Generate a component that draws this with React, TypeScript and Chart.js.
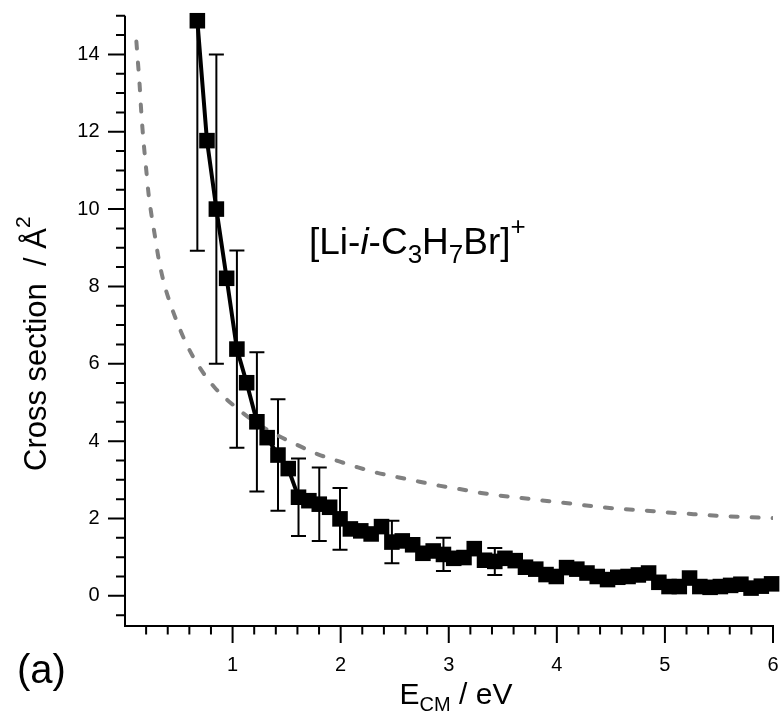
import React, { useEffect, useRef } from "react";
import { Chart, registerables } from "chart.js";

Chart.register(...registerables);

// ---------- data ----------
const energies = [
  0.674, 0.763, 0.85, 0.945, 1.04, 1.13, 1.225, 1.32, 1.42, 1.515,
  1.61, 1.706, 1.802, 1.898, 1.994, 2.09, 2.186, 2.282, 2.378, 2.474,
  2.57, 2.666, 2.761, 2.856, 2.951, 3.046, 3.141, 3.236, 3.331, 3.426,
  3.52, 3.615, 3.71, 3.805, 3.9, 3.995, 4.09, 4.185, 4.279, 4.374,
  4.469, 4.564, 4.659, 4.754, 4.849, 4.944, 5.038, 5.133, 5.228, 5.323,
  5.418, 5.513, 5.608, 5.703, 5.797, 5.892, 5.987,
];
const crossSection = [
  14.87, 11.77, 10.0, 8.21, 6.38, 5.51, 4.5, 4.09, 3.64, 3.29,
  2.55, 2.46, 2.37, 2.29, 1.99, 1.73, 1.68, 1.6, 1.79, 1.39,
  1.42, 1.32, 1.1, 1.16, 1.07, 0.97, 0.99, 1.22, 0.92, 0.89,
  0.97, 0.91, 0.74, 0.69, 0.55, 0.5, 0.73, 0.69, 0.59, 0.5,
  0.42, 0.48, 0.5, 0.54, 0.59, 0.35, 0.24, 0.24, 0.46, 0.24,
  0.22, 0.24, 0.27, 0.3, 0.2, 0.25, 0.31,
];
const crossSectionError: (number | null)[] = [
  5.95, null, 4.0, null, 2.55, null, 1.8, null, 1.44, null,
  1.0, null, 0.95, null, 0.8, null, null, null, null, 0.55,
  null, null, null, null, 0.43, null, null, null, null, 0.35,
  null, null, null, null, null, null, null, null, null, null,
  null, null, null, null, null, null, null, null, null, null,
  null, null, null, null, null, null, null,
];
const modelEnergies = [
  0.11, 0.125, 0.14, 0.152, 0.166, 0.185, 0.203, 0.222, 0.25, 0.28,
  0.315, 0.362, 0.418, 0.485, 0.57, 0.68, 0.83, 1.02, 1.22, 1.41,
  1.6, 1.79, 1.97, 2.16, 2.34, 2.54, 2.73, 2.91, 3.1, 3.3,
  3.48, 3.67, 3.85, 4.05, 4.23, 4.42, 4.62, 4.8, 4.99, 5.17,
  5.37, 5.55, 5.72, 6.0,
];
const modelCrossSection = [
  14.33, 13.77, 13.21, 12.65, 12.09, 11.48, 10.96, 10.41, 9.84, 9.33,
  8.73, 8.12, 7.6, 7.09, 6.53, 5.97, 5.4, 4.9, 4.47, 4.16,
  3.9, 3.66, 3.49, 3.32, 3.18, 3.06, 2.95, 2.85, 2.76, 2.66,
  2.59, 2.53, 2.47, 2.41, 2.35, 2.29, 2.24, 2.21, 2.16, 2.13,
  2.09, 2.06, 2.04, 2.01,
];
const xMajorTicks = [1, 2, 3, 4, 5, 6];
const yMajorTicks = [0, 2, 4, 6, 8, 10, 12, 14];
const xMinorStep = 0.2;
const yMinorStep = 0.5;
const X_MIN = 0;
const X_MAX = 6;
const Y_MIN = -0.78;
const Y_MAX = 15;

// ---------- layout ----------
const W = 784;
const H = 713;
const AREA = { left: 124.5, top: 15.7, right: 775, bottom: 626 };
const FONT = '"Liberation Sans", Arial, Helvetica, sans-serif';

type Run = { t: string; size: number; dy?: number; italic?: boolean };

function drawRuns(ctx: CanvasRenderingContext2D, runs: Run[], x: number, y: number) {
  let cx = x;
  for (const r of runs) {
    ctx.font = `${r.italic ? "italic " : ""}${r.size}px ${FONT}`;
    ctx.fillText(r.t, cx, y + (r.dy || 0));
    cx += ctx.measureText(r.t).width;
  }
  return cx - x;
}
function runsWidth(ctx: CanvasRenderingContext2D, runs: Run[]) {
  let w = 0;
  for (const r of runs) {
    ctx.font = `${r.italic ? "italic " : ""}${r.size}px ${FONT}`;
    w += ctx.measureText(r.t).width;
  }
  return w;
}

const errorBarPlugin = {
  id: "errorBars",
  beforeDatasetsDraw(chart: any) {
    const { ctx, chartArea } = chart;
    const xs = chart.scales.x;
    const ys = chart.scales.y;
    ctx.save();
    ctx.beginPath();
    ctx.rect(chartArea.left, chartArea.top, chartArea.right - chartArea.left, chartArea.bottom - chartArea.top);
    ctx.clip();
    ctx.strokeStyle = "#000";
    ctx.lineWidth = 2;
    const cap = 7.5;
    crossSectionError.forEach((e, i) => {
      if (e == null) return;
      const px = xs.getPixelForValue(energies[i]);
      const pt = ys.getPixelForValue(crossSection[i] + e);
      const pb = ys.getPixelForValue(crossSection[i] - e);
      ctx.beginPath();
      ctx.moveTo(px, pt);
      ctx.lineTo(px, pb);
      ctx.moveTo(px - cap, pt);
      ctx.lineTo(px + cap, pt);
      ctx.moveTo(px - cap, pb);
      ctx.lineTo(px + cap, pb);
      ctx.stroke();
    });
    ctx.restore();
  },
};

const axesPlugin = {
  id: "axesAndText",
  afterDraw(chart: any) {
    const { ctx, chartArea } = chart;
    const xs = chart.scales.x;
    const ys = chart.scales.y;
    ctx.save();
    ctx.strokeStyle = "#000";
    ctx.lineWidth = 2;
    ctx.lineCap = "butt";
    const ax = chartArea.left + 0.5;
    const ay = chartArea.bottom;
    // axis lines
    ctx.beginPath();
    ctx.moveTo(ax, chartArea.top);
    ctx.lineTo(ax, ay + 1);
    ctx.moveTo(ax - 1, ay);
    ctx.lineTo(chartArea.right + 1, ay);
    ctx.stroke();
    // y ticks
    ctx.beginPath();
    for (let v = Math.ceil(Y_MIN / yMinorStep) * yMinorStep; v <= Y_MAX + 1e-6; v += yMinorStep) {
      const p = ys.getPixelForValue(v);
      const major = yMajorTicks.some((t) => Math.abs(t - v) < 1e-6);
      ctx.moveTo(ax - (major ? 17 : 9), p);
      ctx.lineTo(ax, p);
    }
    // x ticks
    for (let v = X_MIN + xMinorStep; v <= X_MAX + 1e-6; v += xMinorStep) {
      const p = xs.getPixelForValue(v);
      const major = xMajorTicks.some((t) => Math.abs(t - v) < 1e-6);
      ctx.moveTo(p, ay);
      ctx.lineTo(p, ay + (major ? 17 : 8.5));
    }
    ctx.stroke();

    ctx.fillStyle = "#000";
    ctx.textBaseline = "alphabetic";
    ctx.textAlign = "left";

    // x title
    const xRuns: Run[] = [
      { t: "E", size: 30 },
      { t: "CM", size: 20, dy: 7 },
      { t: " / eV", size: 30 },
    ];
    const xw = runsWidth(ctx, xRuns);
    drawRuns(ctx, xRuns, 456 - xw / 2, 704);

    // y title
    ctx.save();
    ctx.translate(46, 471);
    ctx.rotate(-Math.PI / 2);
    drawRuns(ctx, [
      { t: "Cross section  / \u00C5", size: 31 },
      { t: "2", size: 21, dy: -16 },
    ], 0, 0);
    ctx.restore();

    // panel label
    drawRuns(ctx, [{ t: "(a)", size: 40 }], 17, 683);

    // annotation
    drawRuns(ctx, [
      { t: "[Li-", size: 37 },
      { t: "i", size: 37, italic: true },
      { t: "-C", size: 37 },
      { t: "3", size: 26, dy: 9 },
      { t: "H", size: 37 },
      { t: "7", size: 26, dy: 9 },
      { t: "Br]", size: 37 },
      { t: "+", size: 26, dy: -19 },
    ], 309, 254);
    ctx.restore();
  },
};

export default function App() {
  const ref = useRef<HTMLCanvasElement>(null);
  useEffect(() => {
    document.body.style.margin = "0";
    const canvas = ref.current!;
    const chart = new Chart(canvas, {
      type: "line",
      data: {
        datasets: [
          {
            label: "data",
            data: energies.map((x, i) => ({ x, y: crossSection[i] })),
            borderColor: "#000",
            backgroundColor: "#000",
            borderWidth: 4,
            pointStyle: "rect",
            pointRadius: 11,
            pointBorderWidth: 0,
            pointBackgroundColor: "#000",
            tension: 0,
            clip: false,
            order: 0,
          },
          {
            label: "model",
            data: modelEnergies.map((x, i) => ({ x, y: modelCrossSection[i] })),
            borderColor: "#808080",
            borderWidth: 4,
            borderDash: [7, 14],
            borderCapStyle: "round",
            pointRadius: 0,
            cubicInterpolationMode: "monotone",
            order: 1,
          },
        ],
      },
      options: {
        responsive: false,
        animation: false,
        devicePixelRatio: 1,
        layout: {
          padding: { left: 0, top: AREA.top, right: W - AREA.right, bottom: 0 },
        },
        plugins: { legend: { display: false }, tooltip: { enabled: false } },
        events: [],
        scales: {
          x: {
            type: "linear",
            min: X_MIN,
            max: X_MAX,
            afterBuildTicks: (s: any) => {
              s.ticks = xMajorTicks.map((v) => ({ value: v }));
            },
            afterFit: (s: any) => {
              s.height = H - AREA.bottom;
              s.paddingLeft = 0;
              s.paddingRight = 0;
            },
            grid: { display: true, color: "rgba(0,0,0,0)", drawOnChartArea: false, drawTicks: true, tickLength: 17 },
            border: { display: false },
            ticks: {
              color: "#000",
              font: { family: FONT, size: 20 },
              padding: 10,
              maxRotation: 0,
              autoSkip: false,
            },
          },
          y: {
            type: "linear",
            min: Y_MIN,
            max: Y_MAX,
            afterBuildTicks: (s: any) => {
              s.ticks = yMajorTicks.map((v) => ({ value: v }));
            },
            afterFit: (s: any) => {
              s.width = AREA.left;
              s.paddingTop = 0;
              s.paddingBottom = 0;
            },
            grid: { display: true, color: "rgba(0,0,0,0)", drawOnChartArea: false, drawTicks: true, tickLength: 17 },
            border: { display: false },
            ticks: {
              color: "#000",
              font: { family: FONT, size: 20 },
              padding: 8,
              autoSkip: false,
            },
          },
        },
      },
      plugins: [errorBarPlugin, axesPlugin],
    } as any);
    return () => chart.destroy();
  }, []);
  return (
    <div style={{ width: W, height: H, background: "#fff" }}>
      <canvas ref={ref} width={W} height={H} style={{ display: "block", width: W, height: H }} />
    </div>
  );
}
